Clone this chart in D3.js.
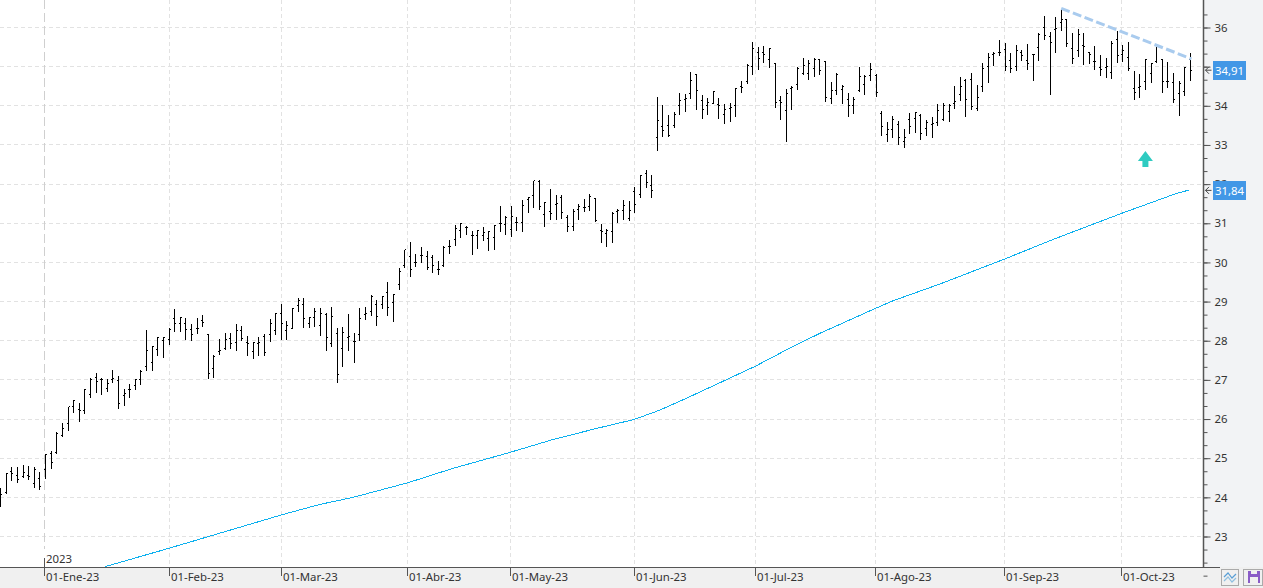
<!DOCTYPE html>
<html>
<head>
<meta charset="utf-8">
<script src="https://cdn.jsdelivr.net/npm/d3@7"></script>
<style>
  html, body { margin: 0; padding: 0; background: #fff; overflow: hidden; }
  svg { display: block; }
  text { font-family: "Noto Sans", sans-serif; font-size: 11.4px; fill: #333; }
</style>
</head>
<body>
<svg id="chart"></svg>
<script>
// daily bars
const highs = [24.23,24.61,24.77,24.77,24.82,24.80,24.77,24.64,25.10,25.18,25.66,25.89,26.32,26.49,26.40,26.77,27.04,27.18,27.04,27.01,27.25,27.10,26.77,26.89,27.02,27.25,28.27,27.87,28.09,28.09,28.32,28.81,28.60,28.57,28.44,28.58,28.66,28.17,27.64,28.04,28.19,28.19,28.44,28.37,28.12,27.97,28.09,28.17,28.55,28.71,28.94,28.51,28.83,
  29.08,29.09,28.61,28.83,28.83,28.70,28.86,28.32,28.34,28.67,28.21,28.84,28.86,29.16,29.04,29.14,29.50,29.19,29.87,30.33,30.52,30.21,30.39,30.29,30.19,30.04,30.41,30.56,
  30.96,31.00,30.94,30.80,30.83,30.90,30.81,30.96,31.45,31.18,31.44,31.17,31.60,31.68,32.08,32.10,31.54,31.88,31.73,31.73,31.22,31.37,31.50,31.62,31.74,31.65,30.99,30.86,31.29,31.37,31.60,31.56,31.92,32.24,32.36,32.24,
  34.23,34.02,33.77,33.85,34.33,34.31,34.87,34.81,34.28,34.19,34.37,34.20,34.05,34.07,34.45,34.64,35.06,35.62,35.50,35.53,35.48,35.09,34.25,34.43,34.51,34.99,35.22,35.16,35.21,35.17,35.15,34.61,34.83,34.53,34.33,34.23,35.00,34.79,35.10,34.80,
  33.86,33.58,33.73,33.61,33.42,33.81,33.84,33.79,33.63,33.71,34.04,34.07,34.04,34.50,34.73,34.68,34.85,34.53,35.09,35.35,35.38,35.68,35.60,35.35,35.55,35.42,35.58,35.32,35.85,36.29,35.88,36.27,36.44,36.21,
  35.86,35.96,35.86,35.37,35.52,35.30,35.22,35.65,35.91,35.55,35.63,34.89,34.81,35.19,35.10,35.51,35.19,35.12,34.84,34.63,34.99,35.35]
const lows = [23.79,24.12,24.44,24.40,24.51,24.47,24.27,24.22,24.50,24.76,25.12,25.57,25.72,26.19,25.96,26.16,26.57,26.69,26.65,26.72,26.95,26.28,26.36,26.57,26.76,26.90,27.25,27.26,27.64,27.59,27.92,28.25,28.25,28.04,28.02,28.21,28.38,27.06,27.07,27.67,27.78,27.82,27.76,28.02,27.64,27.56,27.64,27.64,27.99,28.17,28.04,28.05,28.32,
  28.77,28.36,28.35,28.38,28.15,27.76,27.86,26.94,27.36,27.76,27.46,28.02,28.56,28.65,28.40,28.83,28.66,28.50,29.33,29.89,29.66,29.92,30.01,29.82,29.76,29.71,29.92,30.25,
  30.45,30.65,30.73,30.22,30.37,30.56,30.32,30.35,30.81,30.73,30.68,30.83,30.81,31.30,31.42,31.36,30.94,31.10,31.11,31.13,30.79,30.83,31.11,31.32,31.33,31.07,30.53,30.42,30.51,31.04,31.12,31.09,31.29,31.68,31.93,31.68,
  32.88,33.24,33.22,33.47,33.80,33.87,34.20,33.91,33.69,33.80,34.06,33.69,33.57,33.62,33.74,34.36,34.59,34.82,34.94,35.12,35.00,33.97,33.67,33.10,33.92,34.43,34.82,34.69,34.77,34.82,34.13,34.08,34.29,34.08,33.74,33.82,34.38,34.31,34.65,34.26,
  33.25,33.10,33.21,33.02,32.95,33.30,33.33,33.16,33.26,33.20,33.52,33.63,33.62,33.95,34.15,33.75,33.92,33.89,34.38,34.61,35.04,35.30,34.91,34.86,34.92,35.17,34.94,34.66,35.17,35.71,34.30,35.37,35.93,35.53,
  35.10,35.28,35.07,35.10,34.94,34.78,34.73,34.72,35.12,35.15,34.92,34.17,34.23,34.43,34.61,35.12,34.35,34.48,34.10,33.76,34.27,34.66]
const opens = [23.95,24.12,24.66,24.56,24.53,24.56,24.36,24.49,24.71,25.11,25.14,25.58,25.89,26.33,26.25,26.21,26.63,27.07,27.00,26.78,27.02,26.99,26.59,26.76,26.85,27.00,27.35,27.45,27.78,28.00,28.04,28.57,28.44,28.44,28.29,28.32,28.51,28.15,27.28,27.72,27.81,28.06,27.96,28.27,27.96,27.72,27.93,28.12,28.15,28.27,28.70,28.26,28.32,
  28.91,28.93,28.43,28.59,28.39,28.67,27.93,28.19,27.79,28.09,27.99,28.17,28.68,28.75,28.93,28.93,29.24,28.98,29.44,29.92,30.16,30.00,30.18,30.15,30.12,29.82,29.93,30.40,
  30.59,30.82,30.90,30.70,30.70,30.70,30.61,30.64,30.99,30.98,30.84,31.02,31.01,31.60,31.72,32.07,31.23,31.29,31.49,31.66,31.16,30.93,31.34,31.41,31.43,31.64,30.82,30.73,30.80,31.29,31.32,31.13,31.81,31.74,32.26,31.96,
  33.20,33.47,33.50,33.49,34.02,34.17,34.32,34.79,34.14,34.00,34.07,34.04,33.79,33.93,34.00,34.49,34.62,35.00,35.37,35.36,35.19,35.09,34.13,33.89,34.45,34.55,34.83,34.82,34.96,35.17,35.13,34.18,34.40,34.41,34.17,34.02,34.40,34.55,34.77,34.77,
  33.81,33.27,33.40,33.52,33.09,33.65,33.68,33.74,33.41,33.51,33.58,33.65,33.86,34.07,34.29,34.65,34.67,33.93,34.50,35.00,35.31,35.36,35.44,35.16,35.01,35.36,35.16,35.30,35.49,36.00,35.76,35.95,36.13,36.21,
  35.47,35.42,35.55,35.35,35.12,34.97,34.97,34.84,35.70,35.30,35.24,34.44,34.46,34.61,34.83,35.13,35.18,34.63,34.60,34.32,34.37,35.18]
const closes = [24.08,24.61,24.60,24.46,24.63,24.53,24.71,24.27,25.10,24.89,25.63,25.76,26.32,26.47,26.23,26.76,27.02,26.96,27.00,26.91,27.04,26.40,26.66,26.76,27.00,27.21,27.76,27.85,28.07,28.09,28.29,28.44,28.59,28.29,28.16,28.32,28.47,27.17,27.61,27.74,28.04,27.93,28.25,28.06,27.93,27.95,27.96,27.70,28.44,28.69,28.44,28.39,28.82,
  29.04,28.57,28.59,28.74,28.70,28.09,28.63,27.15,28.21,28.10,27.98,28.57,28.70,29.12,28.61,29.12,28.85,29.18,29.78,30.32,29.82,30.00,30.18,29.87,29.93,29.82,30.39,30.40,
  30.86,30.99,30.90,30.70,30.82,30.77,30.80,30.94,31.00,31.16,31.17,31.02,31.45,31.66,32.08,31.43,31.52,31.24,31.50,31.27,30.93,31.30,31.43,31.41,31.68,31.08,30.79,30.81,31.26,31.32,31.46,31.32,31.47,32.21,32.05,31.83,
  33.63,33.38,33.25,33.77,34.13,34.19,34.65,34.40,33.91,34.08,34.37,34.02,33.91,33.96,34.44,34.48,35.02,35.47,35.22,35.30,35.47,34.09,34.09,34.32,34.47,34.96,35.02,35.07,35.17,34.90,34.22,34.40,34.81,34.49,34.02,34.15,34.76,34.75,34.94,34.35,
  33.47,33.40,33.65,33.20,33.19,33.48,33.82,33.29,33.58,33.55,33.89,34.02,34.01,34.12,34.49,34.16,33.98,34.21,34.95,35.24,35.34,35.36,35.01,34.96,35.41,35.29,35.08,35.30,35.81,35.80,35.62,35.98,36.21,35.58,
  35.21,35.81,35.51,35.32,35.12,34.93,35.01,35.58,35.29,35.42,34.95,34.34,34.50,35.18,35.07,35.51,34.63,34.61,34.15,34.57,34.98,34.91]

// long moving average, sampled by eye along the line
const maIndex = [18.6,30,50,56.9,62.8,72.5,80.6,90.8,98.5,106.2,112.9,117.5,122.8,134.5,140.6,146,155.8,159,167.4,178.8,187.6,199.7,209.5,211.8]
const maValues = [22.23,22.70,23.55,23.82,24.00,24.37,24.74,25.15,25.48,25.76,25.99,26.23,26.57,27.35,27.81,28.19,28.82,29.02,29.45,30.08,30.59,31.25,31.76,31.85]

// falling trendline across the top
const trendIndex = [189,212.2]
const trendValues = [36.49,35.20]

const priceTicks = d3.range(23, 37)
const minorTicks = d3.range(0, 44).map(i => 22 + i / 3)
const dateLabels = ['01-Ene-23','01-Feb-23','01-Mar-23','01-Abr-23','01-May-23','01-Jun-23','01-Jul-23','01-Ago-23','01-Sep-23','01-Oct-23']
const dateIndex = [7.8,30,50,72.5,90.9,113,134.5,155.9,178.9,199.7]

const lastLabels = ['34,91','31,84']
const lastValues = [34.91,31.84]
const arrowIndex = 204
const arrowValue = 32.64

const W = 1263, H = 588
const axisX = 1203, axisY = 567

const svg = d3.select('#chart').attr('width', W).attr('height', H)

const x = d3.scaleLinear().domain([0, 212]).range([0.7, 1190.3])
const y = d3.scaleLinear().domain([23, 36]).range([536.5, 27.5])

const px = v => Math.floor(v) + 0.5

// panels behind the axes
svg.append('rect').attr('x', axisX).attr('y', 0).attr('width', W - axisX).attr('height', H).attr('fill', '#f2f3f5')
svg.append('rect').attr('x', 0).attr('y', axisY).attr('width', W).attr('height', H - axisY).attr('fill', '#f0f0f0')

svg.append('clipPath').attr('id', 'plot')
  .append('rect').attr('width', axisX).attr('height', axisY)

const plot = svg.append('g').attr('clip-path', 'url(#plot)')

// grid
const grid = plot.append('g').attr('stroke', '#e2e2e2').attr('stroke-dasharray', '4,3').attr('shape-rendering', 'crispEdges')
grid.selectAll('.h').data(priceTicks).join('line')
  .attr('class', 'h')
  .attr('x1', 0).attr('x2', axisX)
  .attr('y1', d => px(y(d))).attr('y2', d => px(y(d)))
grid.selectAll('.v').data(dateIndex.slice(1)).join('line')
  .attr('class', 'v')
  .attr('x1', d => px(x(d))).attr('x2', d => px(x(d)))
  .attr('y1', 0).attr('y2', axisY)

// year separator
plot.append('line')
  .attr('x1', px(x(dateIndex[0]))).attr('x2', px(x(dateIndex[0])))
  .attr('y1', 0).attr('y2', 549)
  .attr('stroke', '#cfcfcf').attr('stroke-dasharray', '9,4').attr('shape-rendering', 'crispEdges')
plot.append('line')
  .attr('x1', px(x(dateIndex[0]))).attr('x2', px(x(dateIndex[0])))
  .attr('y1', 558).attr('y2', axisY)
  .attr('stroke', '#555').attr('shape-rendering', 'crispEdges')
plot.append('text').attr('x', px(x(dateIndex[0])) + 1.5).attr('y', 563).text('2023')

// moving average
const maLine = d3.line().x((d, i) => x(maIndex[i])).y(d => y(d))
plot.append('path').datum(maValues)
  .attr('d', maLine)
  .attr('fill', 'none').attr('stroke', '#0cb0ee').attr('stroke-width', 1)
  .attr('shape-rendering', 'crispEdges')

// bars
const bars = plot.append('g').attr('stroke', '#000').attr('shape-rendering', 'crispEdges')
const bar = bars.selectAll('g').data(highs).join('g')
bar.append('line')
  .attr('x1', (d, i) => px(x(i))).attr('x2', (d, i) => px(x(i)))
  .attr('y1', d => Math.round(y(d))).attr('y2', (d, i) => Math.round(y(lows[i])) + 1)
bar.append('line')
  .attr('x1', (d, i) => px(x(i)) - 1.5).attr('x2', (d, i) => px(x(i)))
  .attr('y1', (d, i) => px(y(opens[i]))).attr('y2', (d, i) => px(y(opens[i])))
bar.append('line')
  .attr('x1', (d, i) => px(x(i))).attr('x2', (d, i) => px(x(i)) + 1.5)
  .attr('y1', (d, i) => px(y(closes[i]))).attr('y2', (d, i) => px(y(closes[i])))

// trendline
plot.append('line')
  .attr('x1', x(trendIndex[0])).attr('y1', y(trendValues[0]))
  .attr('x2', x(trendIndex[1])).attr('y2', y(trendValues[1]))
  .attr('stroke', '#a9cbee').attr('stroke-width', 3).attr('stroke-dasharray', '9,3.5')

// signal arrow
const ax = x(arrowIndex), ay = y(arrowValue)
svg.append('path')
  .attr('d', `M${ax},${ay - 8} L${ax + 7.5},${ay + 2} L${ax + 3},${ay + 2} L${ax + 3},${ay + 8} L${ax - 3},${ay + 8} L${ax - 3},${ay + 2} L${ax - 7.5},${ay + 2} Z`)
  .attr('fill', '#2fcbc1')

// price axis
const rightAxis = svg.append('g').attr('transform', `translate(${axisX + 0.5},0)`)
  .call(d3.axisRight(y).tickValues(minorTicks).tickSize(4).tickFormat(''))
const majorAxis = svg.append('g').attr('transform', `translate(${axisX + 0.5},0)`)
  .call(d3.axisRight(y).tickValues(priceTicks).tickSize(7).tickPadding(4).tickFormat(d => d))
rightAxis.selectAll('line').attr('stroke', '#555')
majorAxis.selectAll('line').attr('stroke', '#555')
rightAxis.select('.domain').remove()
majorAxis.select('.domain').remove()
majorAxis.selectAll('text').style('font-size', '11.4px').style('font-family', '"Noto Sans", sans-serif').attr('fill', '#333')
svg.append('line').attr('x1', axisX + 0.5).attr('x2', axisX + 0.5).attr('y1', 0).attr('y2', axisY)
  .attr('stroke', '#555').attr('stroke-width', 1.5)

// date axis
const dateAxis = svg.append('g').attr('transform', `translate(0,${axisY})`)
  .call(d3.axisBottom(x).tickValues(dateIndex).tickSize(9).offset(0).tickFormat((d, i) => dateLabels[i]))
dateAxis.select('.domain').remove()
dateAxis.selectAll('.tick').attr('transform', d => `translate(${px(x(d))},0)`)
dateAxis.selectAll('line').attr('stroke', '#555').attr('shape-rendering', 'crispEdges')
dateAxis.selectAll('text')
  .attr('text-anchor', 'start').attr('x', 1.5).attr('y', 6).attr('dy', '.71em')
  .style('font-size', '11.4px').style('font-family', '"Noto Sans", sans-serif').attr('fill', '#333')
svg.append('line').attr('x1', 0).attr('x2', 1220).attr('y1', axisY + 0.5).attr('y2', axisY + 0.5)
  .attr('stroke', '#555').attr('shape-rendering', 'crispEdges')

// last value badges
lastValues.forEach((v, i) => {
  const by = y(v)
  const g = svg.append('g')
  g.append('rect').attr('x', 1213).attr('y', Math.round(by) - 9).attr('width', 33).attr('height', 19).attr('fill', '#4297e6')
  g.append('text').attr('x', 1229.5).attr('y', by + 4.5).attr('text-anchor', 'middle').style('fill', '#fff').text(lastLabels[i])
  g.append('path').attr('d', `M1211.5,${by} H1205.5 M1209,${by - 3.5} L1205.5,${by} L1209,${by + 3.5}`)
    .attr('fill', 'none').attr('stroke', '#444').attr('stroke-width', 1)
})

// buttons at the corner
const btn1 = svg.append('g')
btn1.append('rect').attr('x', 1221.5).attr('y', 569.5).attr('width', 17).attr('height', 16).attr('fill', '#f0f0f0').attr('stroke', '#aaa')
btn1.append('path').attr('d', 'M1224,577 L1228,573 L1232,578 L1236,574').attr('fill', 'none').attr('stroke', '#5a9fd6').attr('stroke-width', 1.2)
btn1.append('path').attr('d', 'M1224,581 L1228,577 L1232,582 L1236,578').attr('fill', 'none').attr('stroke', '#8fbfe0').attr('stroke-width', 1.2)
const btn2 = svg.append('g')
btn2.append('rect').attr('x', 1243.5).attr('y', 569.5).attr('width', 19).attr('height', 16).attr('fill', '#f0f0f0').attr('stroke', '#aaa')
btn2.append('rect').attr('x', 1248).attr('y', 571).attr('width', 12).attr('height', 12).attr('fill', '#8a5cc7')
btn2.append('rect').attr('x', 1251).attr('y', 571).attr('width', 6).attr('height', 3).attr('fill', '#f0f0f0')
btn2.append('rect').attr('x', 1250).attr('y', 577).attr('width', 8).attr('height', 6).attr('fill', '#f0f0f0')
</script>
</body>
</html>
